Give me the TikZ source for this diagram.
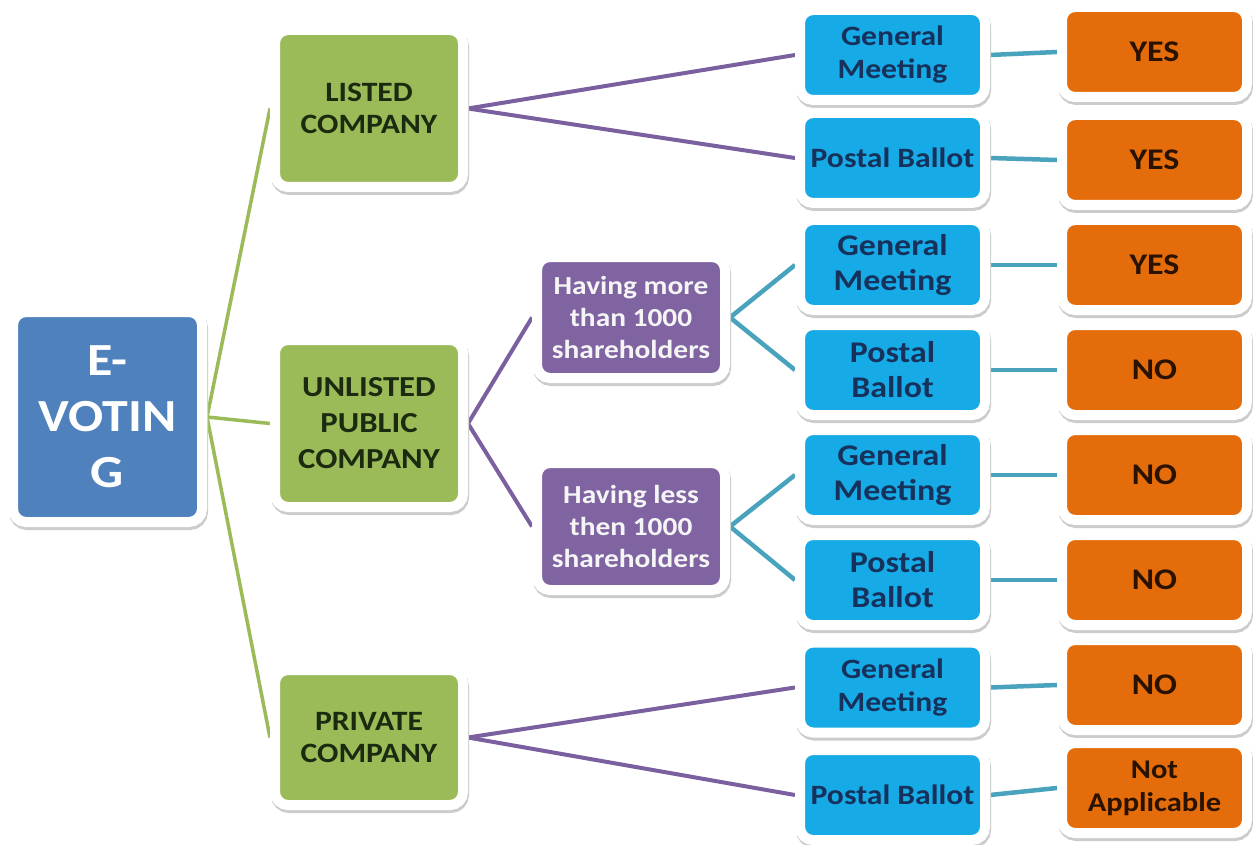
\documentclass[tikz,border=0pt]{standalone}
\usepackage{fontspec}
\setmainfont{Carlito}[FakeStretch=1.13]
\usetikzlibrary{backgrounds}
\definecolor{evblue}{HTML}{4F81BD}
\definecolor{cgreen}{HTML}{9BBB59}
\definecolor{cpurple}{HTML}{8064A2}
\definecolor{cblue}{RGB}{22,170,230}
\definecolor{corange}{HTML}{E46C0A}
\definecolor{tgreen}{HTML}{1C2A10}
\definecolor{tblue}{HTML}{16325C}
\definecolor{torange}{HTML}{2A1200}
\definecolor{lteal}{HTML}{4AA3BC}
\definecolor{lpurple}{HTML}{7B60A0}
\definecolor{lgreen}{HTML}{9BBB59}
\begin{document}
\begin{tikzpicture}[x=1pt,y=-1pt,
  box/.style={draw=white, line width=10pt, rounded corners=13pt, inner sep=0pt, align=center,
    preaction={draw=black!20, line width=10pt, transform canvas={shift={(1pt,-3pt)}}}},
  evbox/.style={box, fill=evblue, text=white, minimum width=189pt, minimum height=210pt,
    font=\fontsize{46}{56}\selectfont\bfseries},
  cobox/.style={box, fill=cgreen, text=tgreen, minimum width=188pt,
    font=\fontsize{28}{32}\selectfont\bfseries},
  shbox/.style={box, fill=cpurple, text=white!96!black, minimum width=188pt,
    font=\fontsize{26}{32}\selectfont\bfseries},
  mtbox/.style={box, fill=cblue, text=tblue, minimum width=185pt, minimum height=90pt,
    font=\fontsize{28}{33}\selectfont\bfseries},
  mtboxb/.style={mtbox, font=\fontsize{30}{35}\selectfont\bfseries},
  ansbox/.style={box, fill=corange, text=torange, minimum width=185pt, minimum height=90pt,
    font=\fontsize{30}{35}\selectfont\bfseries},
  gline/.style={draw=lgreen, line width=3.5pt},
  pline/.style={draw=lpurple, line width=4pt},
  tline/.style={draw=lteal, line width=4.5pt}
]
\useasboundingbox (0,0) rectangle (1253,845);

% root
\node[evbox] (ev) at (107.5,417) {E-\\VOTIN\\G};

% companies
\node[cobox, minimum height=157pt] (listed) at (369,108.5) {LISTED\\COMPANY};
\node[cobox, minimum height=167pt, font=\fontsize{29}{36}\selectfont\bfseries] (unlisted) at (369,423.5) {UNLISTED\\PUBLIC\\COMPANY};
\node[cobox, minimum height=135pt] (private) at (369,737.5) {PRIVATE\\COMPANY};

% shareholder groups
\node[shbox, minimum height=121pt] (more) at (631,317.5) {Having more\\than 1000\\shareholders};
\node[shbox, minimum height=127pt] (less) at (631,526.5) {Having less\\then 1000\\shareholders};

% meetings
\node[mtbox] (gm1) at (892.5,55) {General\\Meeting};
\node[mtbox] (pb1) at (892.5,158) {Postal Ballot};
\node[mtboxb] (gm2) at (892.5,265) {General\\Meeting};
\node[mtboxb] (pb2) at (892.5,370) {Postal\\Ballot};
\node[mtboxb] (gm3) at (892.5,475) {General\\Meeting};
\node[mtboxb] (pb3) at (892.5,580) {Postal\\Ballot};
\node[mtbox] (gm4) at (892.5,687.5) {General\\Meeting};
\node[mtbox] (pb4) at (892.5,795) {Postal Ballot};

% answers
\node[ansbox] (a1) at (1154.5,52) {YES};
\node[ansbox] (a2) at (1154.5,160) {YES};
\node[ansbox] (a3) at (1154.5,265) {YES};
\node[ansbox] (a4) at (1154.5,370) {NO};
\node[ansbox] (a5) at (1154.5,475) {NO};
\node[ansbox] (a6) at (1154.5,580) {NO};
\node[ansbox] (a7) at (1154.5,685) {NO};
\node[ansbox, font=\fontsize{27}{33}\selectfont\bfseries] (a8) at (1154.5,788) {Not\\Applicable};

\begin{pgfonlayer}{background}
\fill[white] (0,0) rectangle (1253,845);
% green
\draw[gline] (ev.east) -- (listed.west);
\draw[gline] (ev.east) -- (unlisted.west);
\draw[gline] (ev.east) -- (private.west);
% purple
\draw[pline] (listed.east) -- (gm1.west);
\draw[pline] (listed.east) -- (pb1.west);
\draw[pline] (unlisted.east) -- (more.west);
\draw[pline] (unlisted.east) -- (less.west);
\draw[pline] (private.east) -- (gm4.west);
\draw[pline] (private.east) -- (pb4.west);
% teal
\draw[tline] (more.east) -- (gm2.west);
\draw[tline] (more.east) -- (pb2.west);
\draw[tline] (less.east) -- (gm3.west);
\draw[tline] (less.east) -- (pb3.west);
\draw[tline] (gm1.east) -- (a1.west);
\draw[tline] (pb1.east) -- (a2.west);
\draw[tline] (gm2.east) -- (a3.west);
\draw[tline] (pb2.east) -- (a4.west);
\draw[tline] (gm3.east) -- (a5.west);
\draw[tline] (pb3.east) -- (a6.west);
\draw[tline] (gm4.east) -- (a7.west);
\draw[tline] (pb4.east) -- (a8.west);
\end{pgfonlayer}
\end{tikzpicture}
\end{document}
